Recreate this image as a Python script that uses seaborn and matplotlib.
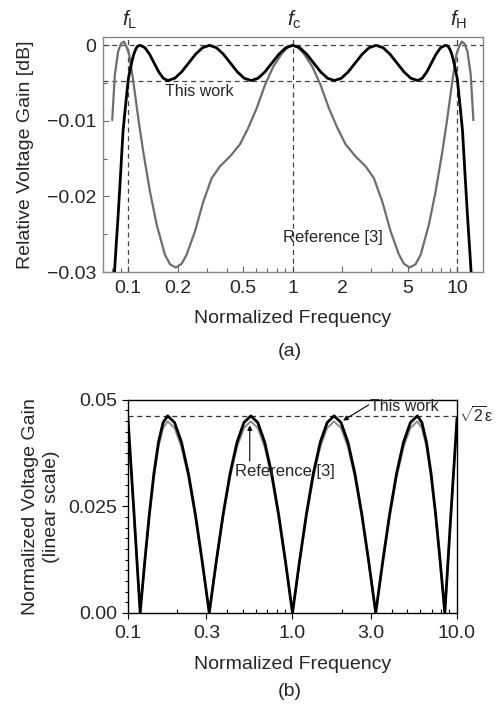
import numpy as np
import pandas as pd
import matplotlib
matplotlib.use("Agg")
import matplotlib.pyplot as plt
import matplotlib.transforms as mtransforms
import seaborn as sns

# ---------------- data ----------------
# (a) Relative voltage gain [dB] vs normalized frequency
this_work_freq = [0.08019, 0.08203, 0.08395, 0.08690, 0.08995, 0.09311, 0.09638, 0.1, 0.1009,
                  0.1033, 0.1057, 0.1081, 0.1107, 0.1132, 0.1159, 0.1186,
                  0.1264, 0.1348, 0.1437, 0.1532, 0.1634, 0.1742,
                  0.1920, 0.2115, 0.2331, 0.2569, 0.2830, 0.3119,
                  0.3437, 0.3787, 0.4173, 0.4599, 0.5068, 0.5585,
                  0.6155, 0.6781, 0.7473, 0.8236, 0.9074, 1.0,
                  1.1020, 1.2142, 1.3381, 1.4747, 1.6248, 1.7906,
                  1.9733, 2.1742, 2.3961, 2.6406, 2.9094, 3.2063,
                  3.5334, 3.8931, 4.2904, 4.7283, 5.2096, 5.7412,
                  6.1206, 6.5267, 6.9582, 7.4181, 7.9103, 8.4333,
                  8.630, 8.831, 9.036, 9.247, 9.462, 9.683, 9.908, 10.0,
                  10.375, 10.740, 11.117, 11.508, 11.912, 12.19, 12.47]
this_work_gain = [-0.035, -0.031, -0.0275, -0.0225, -0.0170, -0.0113, -0.0080, -0.0046, -0.0041,
                  -0.0030, -0.0020, -0.0012, -0.0006, -0.0002, -0.00005, 0.0,
                  -0.00031, -0.00117, -0.00233, -0.00350, -0.00435, -0.00466,
                  -0.00435, -0.00350, -0.00233, -0.00117, -0.00031, 0.0,
                  -0.00031, -0.00117, -0.00233, -0.00350, -0.00435, -0.00466,
                  -0.00435, -0.00350, -0.00233, -0.00117, -0.00031, 0.0,
                  -0.00031, -0.00117, -0.00233, -0.00350, -0.00435, -0.00466,
                  -0.00435, -0.00350, -0.00233, -0.00117, -0.00031, 0.0,
                  -0.00031, -0.00117, -0.00233, -0.00350, -0.00435, -0.00466,
                  -0.00435, -0.00350, -0.00233, -0.00117, -0.00031, 0.0,
                  -0.00005, -0.0002, -0.0006, -0.0012, -0.0020, -0.0030, -0.0041, -0.0046,
                  -0.0080, -0.0113, -0.0170, -0.0225, -0.0275, -0.031, -0.035]

ref3_freq = [0.07998, 0.08299, 0.08690, 0.09036, 0.09419, 0.09772, 0.1014, 0.1072, 0.1151,
             0.1233, 0.1355, 0.1489, 0.1671, 0.1799, 0.1950, 0.2113, 0.2265, 0.2547, 0.2858,
             0.3214, 0.3614, 0.4159, 0.4775, 0.5370, 0.6039, 0.6792, 0.7621, 0.8570, 0.9397,
             1.0,
             1.0641, 1.1668, 1.3122, 1.4723, 1.6558, 1.8621, 2.0941, 2.4044, 2.7669, 3.1117,
             3.4995, 3.9264, 4.4157, 4.7315, 5.1286, 5.5590, 5.9841, 6.7143, 7.3790, 8.1096,
             8.6896, 9.3325, 9.8628, 10.233, 10.617, 11.066, 11.508, 12.050, 12.503]
ref3_gain = [-0.0099, -0.0039, -0.0008, 0.0002, 0.0005, -0.0002, -0.0012, -0.0046, -0.0096,
             -0.0140, -0.0193, -0.0237, -0.0277, -0.0290, -0.0294, -0.0289, -0.0277, -0.0246, -0.0207,
             -0.0176, -0.0160, -0.0147, -0.0131, -0.0109, -0.0083, -0.0052, -0.0028, -0.0011, -0.0002,
             0.0,
             -0.0002, -0.0011, -0.0028, -0.0052, -0.0083, -0.0109, -0.0131, -0.0147, -0.0160, -0.0176,
             -0.0207, -0.0246, -0.0277, -0.0289, -0.0294, -0.0290, -0.0277, -0.0237, -0.0193, -0.0140,
             -0.0096, -0.0046, -0.0012, -0.0002, 0.0005, 0.0002, -0.0008, -0.0039, -0.0099]

ripple_level = -0.00466
marker_freqs = [0.1, 1.0, 10.0]
marker_labels = [r"$f_{\mathrm{L}}$", r"$f_{\mathrm{c}}$", r"$f_{\mathrm{H}}$"]
a_xticks = [0.1, 0.2, 0.5, 1, 2, 5, 10]
a_xticklabels = ["0.1", "0.2", "0.5", "1", "2", "5", "10"]
a_yticks = [-0.03, -0.02, -0.01, 0.0]
a_yticklabels = ["\u22120.03", "\u22120.02", "\u22120.01", "0"]

# (b) Normalized voltage gain (linear scale)
b_freq = [0.1, 0.1089, 0.1186,
          0.1264, 0.1348, 0.1437, 0.1532, 0.1634, 0.1742,
          0.1920, 0.2115, 0.2331, 0.2569, 0.2830, 0.3119,
          0.3437, 0.3787, 0.4173, 0.4599, 0.5068, 0.5585,
          0.6155, 0.6781, 0.7473, 0.8236, 0.9074, 1.0,
          1.1020, 1.2142, 1.3381, 1.4747, 1.6248, 1.7906,
          1.9733, 2.1742, 2.3961, 2.6406, 2.9094, 3.2063,
          3.5334, 3.8931, 4.2904, 4.7283, 5.2096, 5.7412,
          6.1206, 6.5267, 6.9582, 7.4181, 7.9103, 8.4333,
          9.183, 10.0]
b_this_work = [0.0456, 0.0232, 0.0,
               0.01196, 0.0231, 0.03267, 0.04001, 0.04463, 0.0462,
               0.04463, 0.04001, 0.03267, 0.0231, 0.01196, 0.0,
               0.01196, 0.0231, 0.03267, 0.04001, 0.04463, 0.0462,
               0.04463, 0.04001, 0.03267, 0.0231, 0.01196, 0.0,
               0.01196, 0.0231, 0.03267, 0.04001, 0.04463, 0.0462,
               0.04463, 0.04001, 0.03267, 0.0231, 0.01196, 0.0,
               0.01196, 0.0231, 0.03267, 0.04001, 0.04463, 0.0462,
               0.04463, 0.04001, 0.03267, 0.0231, 0.01196, 0.0,
               0.0232, 0.0456]
b_ref3 = [0.0448, 0.0226, 0.0,
          0.01162, 0.02245, 0.03175, 0.03888, 0.04337, 0.0449,
          0.04337, 0.03888, 0.03175, 0.02245, 0.01162, 0.0,
          0.01162, 0.02245, 0.03175, 0.03888, 0.04337, 0.0449,
          0.04337, 0.03888, 0.03175, 0.02245, 0.01162, 0.0,
          0.01162, 0.02245, 0.03175, 0.03888, 0.04337, 0.0449,
          0.04337, 0.03888, 0.03175, 0.02245, 0.01162, 0.0,
          0.01162, 0.02245, 0.03175, 0.03888, 0.04337, 0.0449,
          0.04337, 0.03888, 0.03175, 0.02245, 0.01162, 0.0,
          0.0226, 0.0448]
sqrt2_eps = 0.0462
b_xticks = [0.1, 0.3, 1, 3, 10]
b_xticklabels = ["0.1", "0.3", "1.0", "3.0", "10.0"]
b_yticks = [0.0, 0.025, 0.05]
b_yticklabels = ["0.00", "0.025", "0.05"]

# ---------------- style ----------------
sns.set_style("ticks")
plt.rcParams['font.family'] = ['Liberation Sans', 'DejaVu Sans']
plt.rcParams['mathtext.fontset'] = 'custom'
plt.rcParams['mathtext.rm'] = 'Liberation Sans'
plt.rcParams['mathtext.it'] = 'Liberation Sans:italic'
plt.rcParams['mathtext.bf'] = 'Liberation Sans:bold'

fig = plt.figure(figsize=(4.97, 7.04), dpi=100)
ax1 = fig.add_axes([0.2072, 0.6136, 0.7646, 0.3338])
ax2 = fig.add_axes([0.2575, 0.1293, 0.662, 0.303])

dash = (0, (4, 3))

# ---------------- panel (a) ----------------
ax1.set_xscale("log")
df_tw = pd.DataFrame({"freq": this_work_freq, "gain": this_work_gain})
df_r3 = pd.DataFrame({"freq": ref3_freq, "gain": ref3_gain})
ax1.axhline(0.0, ls=dash, color="#444444", lw=0.9, zorder=1)
ax1.axhline(ripple_level, ls=dash, color="#444444", lw=0.9, zorder=1)
for f in marker_freqs:
    ax1.axvline(f, ls=dash, color="#444444", lw=0.9, zorder=1)
sns.lineplot(data=df_r3, x="freq", y="gain", ax=ax1, color="#6e6e6e", lw=1.6,
             estimator=None, sort=False, zorder=2)
sns.lineplot(data=df_tw, x="freq", y="gain", ax=ax1, color="black", lw=2.0,
             estimator=None, sort=False, zorder=3)
ax1.set_xlim(0.0703, 14.3)
ax1.set_ylim(-0.03, 0.0011)
ax1.set_xticks(a_xticks)
ax1.set_xticklabels(a_xticklabels)
ax1.set_xticks([0.08, 0.09, 0.3, 0.4, 0.6, 0.7, 0.8, 0.9, 3, 4, 6, 7, 8, 9], minor=True)
ax1.set_xticklabels([], minor=True)
ax1.set_yticks(a_yticks)
ax1.set_yticklabels(a_yticklabels)
ax1.set_yticks([-0.025, -0.015, -0.005], minor=True)
ax1.tick_params(which="both", direction="in", color="#666666", width=0.8, labelsize=14)
ax1.tick_params(which="major", length=4)
ax1.tick_params(which="minor", length=3)
ax1.tick_params(axis="x", pad=6)
ax1.tick_params(axis="y", pad=5)
for sp in ax1.spines.values():
    sp.set_color("#888888")
    sp.set_linewidth(1.0)
ax1.set_xlabel("Normalized Frequency", fontsize=14, labelpad=9)
ax1.set_ylabel("Relative Voltage Gain [dB]", fontsize=14, labelpad=9)
trans = mtransforms.blended_transform_factory(ax1.transData, ax1.transAxes)
for f, lab in zip(marker_freqs, marker_labels):
    ax1.text(f * 1.02, 1.075, lab, transform=trans, ha="center", va="center", fontsize=15)
ax1.text(0.27, -0.0061, "This work", ha="center", va="center", fontsize=11.5)
ax1.text(1.758, -0.0254, "Reference [3]", ha="center", va="center", fontsize=12)

# ---------------- panel (b) ----------------
ax2.set_xscale("log")
df_b = pd.DataFrame({"freq": b_freq, "tw": b_this_work, "r3": b_ref3})
ax2.axhline(sqrt2_eps, ls=dash, color="#333333", lw=0.9, zorder=1)
sns.lineplot(data=df_b, x="freq", y="r3", ax=ax2, color="#8a8a8a", lw=1.4,
             estimator=None, sort=False, zorder=2)
sns.lineplot(data=df_b, x="freq", y="tw", ax=ax2, color="black", lw=2.0,
             estimator=None, sort=False, zorder=3)
ax2.set_xlim(0.1, 10)
ax2.set_ylim(0, 0.05)
ax2.set_xticks(b_xticks)
ax2.set_xticklabels(b_xticklabels)
ax2.set_xticks([0.2, 0.4, 0.5, 0.6, 0.7, 0.8, 0.9, 2, 4, 5, 6, 7, 8, 9], minor=True)
ax2.set_xticklabels([], minor=True)
ax2.set_yticks(b_yticks)
ax2.set_yticklabels(b_yticklabels)
ax2.set_yticks([0.0025 * k for k in range(1, 20) if k not in (10,)], minor=True)
ax2.tick_params(which="both", color="black", width=0.8, labelsize=14)
ax2.tick_params(which="major", direction="out", length=4.5)
ax2.tick_params(axis="x", which="minor", direction="in", length=3)
ax2.tick_params(axis="y", which="minor", direction="out", length=2.5)
ax2.tick_params(axis="x", pad=4)
ax2.tick_params(axis="y", pad=3)
for sp in ax2.spines.values():
    sp.set_color("black")
    sp.set_linewidth(1.0)
ax2.set_xlabel("Normalized Frequency", fontsize=14, labelpad=10)
ax2.set_ylabel("Normalized Voltage Gain\n(linear scale)", fontsize=14, labelpad=6,
               linespacing=1.3)
ax2.annotate("", xy=(2.03, 0.0451), xytext=(2.91, 0.0488),
             arrowprops=dict(arrowstyle="-|>", color="black", lw=0.8,
                             shrinkA=0, shrinkB=0, mutation_scale=7))
ax2.text(2.97, 0.0483, "This work", ha="left", va="center", fontsize=11.5)
ax2.annotate("", xy=(0.55, 0.0440), xytext=(0.55, 0.0356),
             arrowprops=dict(arrowstyle="-|>", color="black", lw=0.8,
                             shrinkA=0, shrinkB=0, mutation_scale=7))
ax2.text(0.898, 0.0332, "Reference [3]", ha="center", va="center", fontsize=12)
fig.text(459 / 497, 1 - 416 / 704, r"$\sqrt{2}$ε", ha="left", va="center", fontsize=11.5)

fig.text(290 / 497, 1 - 352 / 704, "(a)", ha="center", va="center", fontsize=14)
fig.text(290 / 497, 1 - 692 / 704, "(b)", ha="center", va="center", fontsize=14)

fig.savefig("out.png", dpi=100)
